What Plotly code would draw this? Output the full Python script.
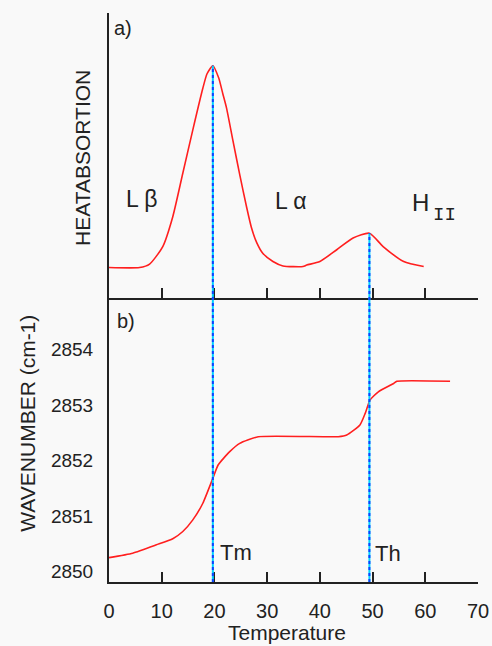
import plotly.graph_objects as go
from plotly.subplots import make_subplots

# ---- data ----
heat_temp = [0, 5.8, 7.7, 10.2, 12.1, 14.0, 15.9, 17.8, 18.6, 19.7, 20.8, 21.6, 22.3, 23.5,
             24.8, 26.1, 27.0, 28.0, 29.2, 31.1, 33.0, 36.8, 37.5, 40.0, 43.2, 46.3, 49.4,
             52.0, 55.9, 59.7]
heat_abs = [0, 0, 1.7, 10.4, 25.2, 46.7, 68.2, 88.8, 96, 100, 94, 86, 79, 63,
            46, 30, 20, 12.5, 7, 3, 0.8, 0.5, 1.2, 3.0, 8.8, 14.6, 17.0,
            10.4, 3.0, 0.5]

wave_temp = [0, 4.5, 9.0, 12.1, 14.0, 15.9, 17.8, 19.7, 20.7, 22.9, 24.8, 28.3, 43.5,
             45.1, 47.6, 48.6, 49.5, 51.1, 54.0, 54.6, 64.7]
wavenumber = [2850.25, 2850.33, 2850.48, 2850.59, 2850.72, 2850.93, 2851.23, 2851.68,
              2851.92, 2852.16, 2852.31, 2852.43, 2852.43, 2852.46, 2852.64, 2852.85,
              2853.09, 2853.24, 2853.39, 2853.43, 2853.43]

x_ticks = [0, 10, 20, 30, 40, 50, 60, 70]
y_ticks = [2850, 2851, 2852, 2853, 2854]
transitions = [19.7, 49.4]          # Tm, Th
transition_heat = [100, 17.0]

FONT = "Liberation Sans, Arial, sans-serif"
AX = "#222222"
RED = "#ff1f1f"

heat_range = [-14.85, 126.1]
wave_range = [2849.81, 2854.94]

fig = make_subplots(rows=2, cols=1, shared_xaxes=False, vertical_spacing=0)

fig.add_trace(go.Scatter(x=heat_temp, y=heat_abs, mode="lines",
                         line=dict(color=RED, width=1.6, shape="spline", smoothing=0.6),
                         showlegend=False, hoverinfo="skip"), row=1, col=1)
fig.add_trace(go.Scatter(x=wave_temp, y=wavenumber, mode="lines",
                         line=dict(color=RED, width=1.6, shape="spline", smoothing=0.5),
                         showlegend=False, hoverinfo="skip"), row=2, col=1)

# vertical transition lines spanning both panels (paper coords computed from data)
for t, h in zip(transitions, transition_heat):
    ytop = 0.5 + 0.5 * (h - heat_range[0]) / (heat_range[1] - heat_range[0])
    fig.add_shape(type="line", xref="x", yref="paper", x0=t, x1=t, y0=0, y1=ytop,
                  line=dict(color="#00d0ff", width=2), layer="above")
    fig.add_shape(type="line", xref="x", yref="paper", x0=t, x1=t, y0=0, y1=ytop,
                  line=dict(color="#1040ff", width=2, dash="dot"), layer="above")

common_x = dict(range=[0, 70], tickvals=x_ticks, ticks="inside", ticklen=10,
                tickwidth=1.5, tickcolor=AX, showline=True, linecolor=AX, linewidth=2,
                showgrid=False, zeroline=False, automargin=False)
fig.update_xaxes(**common_x, showticklabels=False, row=1, col=1)
fig.update_xaxes(**common_x, showticklabels=True, ticklabelstandoff=10,
                 tickfont=dict(family=FONT, size=20, color="#222"), row=2, col=1)
fig.update_yaxes(range=heat_range, showline=True, linecolor=AX, linewidth=2,
                 showticklabels=False, ticks="", showgrid=False, zeroline=False,
                 automargin=False, row=1, col=1)
fig.update_yaxes(range=wave_range, tickvals=y_ticks, ticks="", showline=True,
                 linecolor=AX, linewidth=2, showgrid=False, zeroline=False,
                 ticklabelstandoff=10, automargin=False,
                 tickfont=dict(family=FONT, size=19, color="#222"), row=2, col=1)

fig.update_layout(yaxis_domain=[0.5, 1.0], yaxis2_domain=[0.0, 0.5])

ann = [
    dict(text="a)", x=0.6, y=118.7, xref="x", yref="y", xanchor="left", yanchor="middle",
         font=dict(size=20)),
    dict(text="L β", x=6.2, y=34, xref="x", yref="y", xanchor="center", yanchor="middle",
         font=dict(size=23)),
    dict(text="L α", x=34.5, y=33, xref="x", yref="y", xanchor="center", yanchor="middle",
         font=dict(size=23)),
    dict(text="H", x=59.1, y=32, xref="x", yref="y", xanchor="center", yanchor="middle",
         font=dict(size=24)),
    dict(text="II", x=63.7, y=26, xref="x", yref="y", xanchor="center", yanchor="middle",
         font=dict(size=19, family="Liberation Mono, monospace")),
    dict(text="b)", x=1.2, y=2854.52, xref="x2", yref="y2", xanchor="left", yanchor="middle",
         font=dict(size=20)),
    dict(text="Tm", x=20.6, y=2850.35, xref="x2", yref="y2", xanchor="left", yanchor="middle",
         font=dict(size=22)),
    dict(text="Th", x=50.1, y=2850.32, xref="x2", yref="y2", xanchor="left", yanchor="middle",
         font=dict(size=22)),
    dict(text="HEATABSORTION", x=-0.072, y=0.746, xref="paper", yref="paper",
         textangle=-90, xanchor="center", yanchor="middle", font=dict(size=21)),
    dict(text="WAVENUMBER (cm-1)", x=-0.221, y=0.279, xref="paper", yref="paper",
         textangle=-90, xanchor="center", yanchor="middle", font=dict(size=21)),
    dict(text="Temperature", x=0.483, y=-0.088, xref="paper", yref="paper",
         xanchor="center", yanchor="middle", font=dict(size=21)),
]
for a in ann:
    a.setdefault("showarrow", False)
    a["font"].setdefault("family", FONT)
    a["font"].setdefault("color", "#222")
fig.update_layout(annotations=ann)

fig.update_layout(width=492, height=646,
                  margin=dict(l=109, r=14, t=13, b=64, autoexpand=False),
                  paper_bgcolor="#f9f9f9", plot_bgcolor="#f9f9f9",
                  font=dict(family=FONT, color="#222"), showlegend=False)

fig.write_html("out.html", config={"displayModeBar": False, "responsive": False},
               post_script="document.body.style.margin='0';document.body.style.padding='0';"
                           "document.body.style.overflow='hidden';")
